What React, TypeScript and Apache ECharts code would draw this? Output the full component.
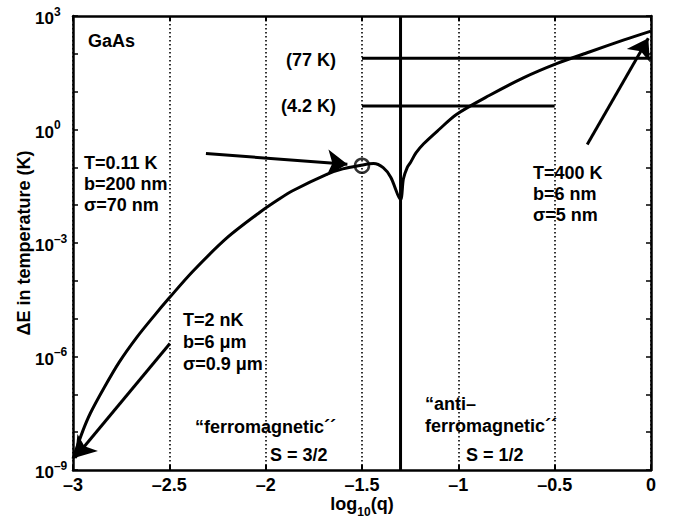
import React, { useEffect, useRef } from "react";
import * as echarts from "echarts";

const FONT = '"Liberation Sans", Arial, Helvetica, sans-serif';

// log10(q) grid and the energy splitting (K) along it
const curveX = [
  -3.0, -2.95, -2.91, -2.84, -2.76, -2.67, -2.58, -2.5, -2.38, -2.2, -2.03, -1.93,
  -1.86, -1.68, -1.6, -1.51, -1.44, -1.39, -1.35, -1.3, -1.285, -1.265, -1.25,
  -1.22, -1.18, -1.1, -1.01, -0.84, -0.66, -0.49, -0.32, -0.14, 0,
];
const curveE = [
  2.0e-9, 1.05e-8, 3.16e-8, 1.45e-7, 7.1e-7, 3.16e-6, 1.17e-5, 3.55e-5, 1.74e-4, 1.38e-3,
  6.5e-3, 0.0145, 0.024, 0.066, 0.091, 0.112, 0.126, 0.098, 0.054, 0.014, 0.05, 0.1,
  0.13, 0.24, 0.42, 1.0, 2.5, 7.9, 23.5, 55, 112, 234, 400,
];

// boundary between the two regimes
const boundaryX = -1.3;

// reference temperatures: [value K, x start, x end]
const level77 = [77, -1.5, 0];
const level42 = [4.2, -1.5, -0.5];

// highlighted point on the curve
const markedPoint = [-1.5, 0.11];

// annotation arrows: [fromX, fromE, toX, toE]
const arrows = [
  [-2.31, 0.233, -1.576, 0.12],
  [-0.331, 0.4, -0.014, 259],
  [-2.497, 2.2e-6, -2.99, 2.1e-9],
];

const xTicks = { min: -3, max: 0, interval: 0.5 };
// decades shown on the energy axis (exponents of 10)
const yDecades = { min: -9, max: 3, interval: 1 };

const lg = (v: number) => Math.log10(v);
const txtFont = `bold 18px ${FONT}`;

export default function App() {
  const ref = useRef<HTMLDivElement>(null);

  useEffect(() => {
    if (!ref.current) return;
    const chart = echarts.init(ref.current, null, { renderer: "svg" });

    const black = "#000";
    const frameLine = { show: true, onZero: false, lineStyle: { color: black, width: 2.5 } };
    const tick = { show: true, inside: true, length: 5, lineStyle: { color: black, width: 2 } };
    const yTick = { show: true, inside: true, length: 5, lineStyle: { color: black, width: 1.5 } };

    const xFmt = (v: number) => (v === 0 ? "0" : v < 0 ? "–" + String(-v) : String(v));
    const yFmt = (v: number) => {
      const e = Math.round(v);
      if (e % 3 !== 0) return "";
      return `{b|10}{s|${e < 0 ? "–" + -e : e}}`;
    };

    const text = (x: number, y: number, t: string, align = "left", lh = 21) => ({
      type: "text",
      x,
      y,
      silent: true,
      style: {
        text: t,
        font: txtFont,
        fill: black,
        textAlign: align,
        textVerticalAlign: "top",
        lineHeight: lh,
      },
    });

    const option: any = {
      animation: false,
      backgroundColor: "#fff",
      textStyle: { fontFamily: FONT },
      grid: { left: 73, right: 22, top: 16, bottom: 51 },
      xAxis: [
        {
          type: "value",
          ...xTicks,
          position: "bottom",
          axisLine: frameLine,
          axisTick: tick,
          axisLabel: {
            formatter: xFmt,
            color: black,
            fontSize: 18,
            fontWeight: "bold",
            fontFamily: FONT,
            margin: 6,
          },
          splitLine: {
            show: true,
            lineStyle: { color: black, width: 1.6, type: [1.5, 2.5] },
          },
          name: "{m|log}{s|10}{m|(q)}",
          nameLocation: "middle",
          nameGap: 20,
          nameMoveOverlap: false,
          nameTextStyle: {
            rich: {
              m: { fontSize: 18, fontWeight: "bold", fontFamily: FONT, color: black, lineHeight: 28 },
              s: {
                fontSize: 12,
                fontWeight: "bold",
                fontFamily: FONT,
                color: black,
                lineHeight: 10,
                verticalAlign: "bottom",
              },
            },
          },
        },
        {
          type: "value",
          ...xTicks,
          position: "top",
          axisLine: frameLine,
          axisTick: tick,
          axisLabel: { show: false },
          splitLine: { show: false },
        },
      ],
      yAxis: [
        {
          type: "value",
          ...yDecades,
          position: "left",
          axisLine: frameLine,
          axisTick: yTick,
          axisLabel: {
            formatter: yFmt,
            interval: 0,
            margin: 38,
            align: "left",
            padding: [5, 0, 0, 0],
            rich: {
              b: { fontSize: 17, fontWeight: "bold", fontFamily: FONT, color: black, lineHeight: 26 },
              s: {
                fontSize: 12,
                fontWeight: "bold",
                fontFamily: FONT,
                color: black,
                lineHeight: 12,
                verticalAlign: "top",
              },
            },
          },
          splitLine: { show: false },
          name: "ΔE in temperature (K)",
          nameLocation: "middle",
          nameRotate: 90,
          nameGap: 40,
          nameMoveOverlap: false,
          nameTextStyle: { fontSize: 18, fontWeight: "bold", fontFamily: FONT, color: black },
        },
        {
          type: "value",
          ...yDecades,
          position: "right",
          axisLine: frameLine,
          axisTick: yTick,
          axisLabel: { show: false },
          splitLine: { show: false },
        },
      ],
      series: [
        {
          type: "line",
          data: curveX.map((x, i) => [x, lg(curveE[i])]),
          showSymbol: false,
          smooth: 0.3,
          lineStyle: { color: black, width: 3 },
          z: 4,
          silent: true,
        },
        {
          type: "line",
          data: [
            [boundaryX, yDecades.min],
            [boundaryX, yDecades.max],
          ],
          showSymbol: false,
          lineStyle: { color: black, width: 3 },
          z: 3,
          silent: true,
        },
        ...[level77, level42].map((lv) => ({
          type: "line",
          data: [
            [lv[1], lg(lv[0])],
            [lv[2], lg(lv[0])],
          ],
          showSymbol: false,
          lineStyle: { color: black, width: 3 },
          z: 3,
          silent: true,
        })),
        {
          type: "scatter",
          data: [[markedPoint[0], lg(markedPoint[1])]],
          symbol: "circle",
          symbolSize: 14,
          itemStyle: { color: "rgba(0,0,0,0)", borderColor: black, borderWidth: 2.5 },
          z: 5,
          silent: true,
        },
        {
          type: "lines",
          coordinateSystem: "cartesian2d",
          polyline: false,
          symbol: ["none", "arrow"],
          symbolSize: 20,
          lineStyle: { color: black, width: 3, opacity: 1, curveness: 0 },
          data: arrows.map((a) => ({
            coords: [
              [a[0], lg(a[1])],
              [a[2], lg(a[3])],
            ],
          })),
          z: 6,
          silent: true,
        },
      ],
      graphic: [
        text(88, 30, "GaAs"),
        text(336, 49, "(77 K)", "right"),
        text(336, 95, "(4.2 K)", "right"),
        text(84, 152, "T=0.11 K\nb=200 nm\nσ=70 nm"),
        text(533, 162, "T=400 K\nb=6 nm\nσ=5 nm"),
        text(183, 309, "T=2 nK\nb=6 μm\nσ=0.9 μm", "left", 22),
        text(195, 416, "“ferromagnetic´´"),
        text(270, 444, "S = 3/2"),
        text(425, 393, "“anti–\nferromagnetic´´", "left", 22),
        text(466, 444, "S = 1/2"),
      ],
    };

    chart.setOption(option);
    return () => chart.dispose();
  }, []);

  return (
    <div
      ref={ref}
      style={{ position: "fixed", left: 0, top: 0, width: 673, height: 523, background: "#fff" }}
    />
  );
}
